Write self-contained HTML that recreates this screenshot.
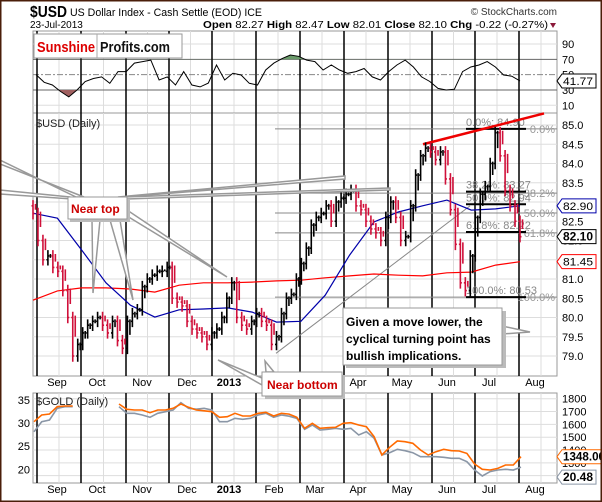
<!DOCTYPE html>
<html><head><meta charset="utf-8"><style>
body{margin:0;background:#fff;}
svg{display:block;font-family:"Liberation Sans",sans-serif;}
</style></head><body>
<svg id="c" width="602" height="502" viewBox="0 0 602 502" xmlns="http://www.w3.org/2000/svg">
<rect x="0" y="0" width="602" height="502" fill="#fff"/>
<g id="hdr">
<text x="30" y="17" font-size="16" font-weight="bold" textLength="37" lengthAdjust="spacingAndGlyphs">$USD</text>
<text x="70" y="16" font-size="11" textLength="192" lengthAdjust="spacingAndGlyphs">US Dollar Index - Cash Settle (EOD) ICE</text>
<text x="557" y="15" font-size="10" text-anchor="end" fill="#333">© StockCharts.com</text>
<text x="30" y="28" font-size="10">23-Jul-2013</text>
<text x="203" y="28" font-size="10.5" textLength="345" lengthAdjust="spacingAndGlyphs"><tspan font-weight="bold">Open</tspan> 82.27 <tspan font-weight="bold">High</tspan> 82.47 <tspan font-weight="bold">Low</tspan> 82.01 <tspan font-weight="bold">Close</tspan> 82.10 <tspan font-weight="bold">Chg</tspan> -0.22 (-0.27%)</text>
<polygon points="550,23 556,23 553,28" fill="#8b1a3a"/>
</g>
<g id="grid"></g>
<g id="marks"></g>
<g id="anno"></g>
<rect x="0" y="0" width="602" height="502" fill="none" stroke="#4a1e0a" stroke-width="3"/>
</svg>
<script>
// ---- data ----
const usdCloses=[82.7,82.0,81.5,81.6,81.3,81.2,80.7,80.0,79.0,79.3,79.6,79.8,79.9,80.0,79.8,79.6,79.9,79.4,79.2,79.9,80.1,80.2,80.8,81.0,81.1,81.2,81.2,81.3,80.5,80.4,80.3,79.9,79.7,79.6,79.5,79.3,79.6,79.7,80.0,80.5,80.9,80.0,79.8,79.7,79.9,80.1,79.9,79.8,79.3,79.5,80.1,80.5,80.6,81.0,81.4,81.8,82.4,82.6,82.7,82.9,82.5,83.0,83.1,83.2,83.3,82.9,82.8,82.5,82.3,82.2,82.0,82.6,83.0,82.6,82.0,82.1,82.9,83.7,84.2,84.4,84.3,84.1,84.3,83.6,82.8,81.9,80.9,80.7,81.6,82.6,83.2,83.4,84.0,84.8,84.2,83.3,82.9,82.5,82.1];
const ma50=[82.71,82.58,81.75,80.9,80.32,80.01,80.2,80.22,80.25,80.14,79.88,79.9,80.58,81.62,82.48,82.74,82.9,83.05,82.79,82.82,82.9];
const ma200=[80.45,80.69,80.77,80.77,80.74,80.66,80.84,80.9,80.9,80.92,80.95,80.97,81.03,81.08,81.13,81.1,81.08,81.16,81.18,81.36,81.45];
const rsi=[50,40,36.5,28,21,30,41,45,47,38.7,54,54,65,67,69,43,47,36.5,54,36.5,34,39,62.6,43,51.7,49.5,38.7,36.5,56,65,71,75.6,74,69,67,56,62.6,56,51.7,54,58,47,43,54,62.6,69,60,47,41,32,30,31,54,60,62.6,67,60,49.5,48,41.77];
const gold=[1621,1673,1681,1738,1743,1743,null,null,null,null,null,1759,1717,1712,1712,1691,1712,1712,1725,1759,1733,1712,1706,1699,1655,1660,1686,1665,1665,1686,1694,1665,1686,1680,1655,1569,1608,1569,1574,1577,1608,1613,1595,1582,1504,1361,1421,1470,1465,1452,1400,1361,1387,1406,1395,1392,1374,1291,1250,1244,1257,1283,1283,1348];
const silver=[28.14,30.3,30.67,33.2,33.55,33.55,null,null,null,null,null,33.55,32.12,32.12,31.75,31.25,32.12,32.47,32.84,34.42,33.2,33.0,33.2,32.84,30.3,30.3,31.03,30.82,31.03,31.75,32.12,31.25,31.75,31.5,31.03,28.65,29.59,28.5,28.65,28.87,28.65,28.87,27.42,28.14,26.7,23.1,23.6,24.33,24.03,23.6,22.73,22.73,22.73,22.6,22.38,22.38,21.65,19.85,18.55,19.5,19.85,20.0,19.85,20.48];
const months=["Sep","Oct","Nov","Dec","2013","Feb","Mar","Apr","May","Jun","Jul","Aug"];
const usdTicks=[85.0,84.5,84.0,83.5,83.0,82.5,82.0,81.5,81.0,80.5,80.0,79.5,79.0];
const rsiTicks=[90,70,50,30,10];
const goldTicks=[1800,1700,1600,1500,1400,1300,1200];
const silverTicks=[35,30,25,20];
const fibLevels=[0,38.2,50,61.8,100];
const fibHigh=84.9, fibLow=80.53;
// ---- scales ----
const NS="http://www.w3.org/2000/svg";
const L=33,R=557;
const xDay=(i,n)=>33+i*(520-33)/(n-1);
const yUsd=v=>125+(85-v)*38.5;
const yRsi=v=>44+(90-v)*0.766;
const yGold=v=>398.7+(1800-v)*0.1283;
const ySil=v=>400+(35-v)*4.62;
const monthX=[37,81,126,169,212,256,300,344,388,432,475,519];
const labelX=[57,97,142,187,229,274,315,358,402,447,489,535];
function mk(tag,attrs,parent,text){const e=document.createElementNS(NS,tag);for(const k in attrs)e.setAttribute(k,attrs[k]);if(text!==undefined)e.textContent=text;parent.appendChild(e);return e;}
const G=document.getElementById('grid'),M=document.getElementById('marks'),A=document.getElementById('anno');
const panels=[[31,113],[113,376],[393,483]];
panels.forEach((p,pi)=>{
 const f=mk('rect',{x:L,y:p[0],width:R-L,height:p[1]-p[0],fill:'#fff',stroke:'#999'},G);
 
 
 for(let k=0;k<monthX.length;k++){
  const mx=k<monthX.length-1?(monthX[k]+monthX[k+1])/2:monthX[k]+22;
  const g=mk('line',{x1:mx,x2:mx,y1:p[0],y2:p[1],stroke:'#ddd'},G);
  
  
 }
});
usdTicks.forEach(v=>{const l=mk('line',{x1:L,x2:R,y1:yUsd(v),y2:yUsd(v),stroke:'#ddd'},G);
 
 const t=mk('text',{x:562,y:yUsd(v)+4,'font-size':11},G,v.toFixed(1));
 });
rsiTicks.forEach(v=>{const main=v===70||v===30;const l=mk('line',{x1:L,x2:R,y1:yRsi(v),y2:yRsi(v),stroke:main?'#666':(v===50?'#888':'#ddd'),'stroke-dasharray':v===50?'6,2,2,2':'none'},G);
 
 const t=mk('text',{x:562,y:yRsi(v)+4,'font-size':11},G,String(v));
 });
goldTicks.forEach(v=>{const l=mk('line',{x1:L,x2:R,y1:yGold(v),y2:yGold(v),stroke:'#ddd'},G);
 
 const t=mk('text',{x:562,y:yGold(v)+4,'font-size':11},G,String(v));
 });
silverTicks.forEach(v=>{const t=mk('text',{x:30,y:ySil(v)+4,'font-size':11,'text-anchor':'end'},G,String(v));
 });
panels.forEach(p=>monthX.forEach(mx=>{const l=mk('line',{x1:mx,x2:mx,y1:p[0],y2:p[1],stroke:'#000','stroke-width':1.5},G);
 }));
months.forEach((m,i)=>{[386,493].forEach(yy=>{const t=mk('text',{x:labelX[i],y:yy,'font-size':11,'text-anchor':'middle','font-weight':m==='2013'?'bold':'normal'},G,m);
 });});
fibLevels.forEach(f=>{const v=fibHigh-(fibHigh-fibLow)*f/100;const y=yUsd(v);
 const l=mk('line',{x1:275,x2:R,y1:y,y2:y,stroke:'#888'},M);
 
 const t=mk('text',{x:R-2,y:y+4,'font-size':11,fill:'#999','text-anchor':'end'},M,f.toFixed(1)+'%');
 });
const fib2=[[0,84.9],[38.2,83.27],[50,82.94],[61.8,82.22],[100,80.53]];
fib2.forEach(d=>{const y=yUsd(d[1]);
 const l=mk('line',{x1:466,x2:526,y1:y,y2:y,stroke:'#000','stroke-width':2},M);
 
 const t=mk('text',{x:466,y:y-3,'font-size':11,fill:'#888'},M,d[0].toFixed(1)+'%: '+d[1].toFixed(2));
 });
const tl=mk('line',{x1:276,y1:yUsd(79.07),x2:470,y2:yUsd(82.9),stroke:'#888','stroke-width':1},M);

const rl=mk('line',{x1:423,y1:yUsd(84.5),x2:544,y2:yUsd(85.3),stroke:'#e00','stroke-width':2.5},M);

function pathOf(arr,xf,yf){let d='',pen=false;arr.forEach((v,i)=>{if(v===null){pen=false;return;}d+=(pen?'L':'M')+xf(i).toFixed(1)+','+yf(v).toFixed(1);pen=true;});return d;}
const p200=mk('path',{d:pathOf(ma200,i=>xDay(i,ma200.length),yUsd),fill:'none',stroke:'#f00','stroke-width':1.2},M);

const p50=mk('path',{d:pathOf(ma50,i=>xDay(i,ma50.length),yUsd),fill:'none',stroke:'#00a','stroke-width':1.2},M);

usdCloses.forEach((c,i)=>{const prev=i?usdCloses[i-1]:c+0.2;const x=xDay(i,usdCloses.length);
 const hi=Math.max(prev,c)+0.15,lo=Math.min(prev,c)-0.15;const col=c<prev?'#d0103a':'#000';
 const b=mk('path',{d:`M${x},${yUsd(hi)}V${yUsd(lo)}M${x-1.5},${yUsd(prev)}H${x}M${x},${yUsd(c)}H${x+1.5}M${x+2.5},${yUsd(hi-0.1)}V${yUsd((prev+c)/2)}`,stroke:col,'stroke-width':1.6,fill:'none'},M);
 });
const rx=i=>36+i*(520-36)/(rsi.length-1);
const clipHi=mk('clipPath',{id:'chi'},M);mk('rect',{x:L,y:0,width:R-L,height:yRsi(70)},clipHi);
const clipLo=mk('clipPath',{id:'clo'},M);mk('rect',{x:L,y:yRsi(30),width:R-L,height:40},clipLo);
const rp=pathOf(rsi,rx,yRsi);
const fh=mk('path',{d:rp+`L${rx(rsi.length-1)},${yRsi(70)}L${rx(0)},${yRsi(70)}Z`,fill:'#6a9a6a','clip-path':'url(#chi)'},M);

const fl=mk('path',{d:rp+`L${rx(rsi.length-1)},${yRsi(30)}L${rx(0)},${yRsi(30)}Z`,fill:'#a06060','clip-path':'url(#clo)'},M);

const rl2=mk('path',{d:rp,fill:'none',stroke:'#000','stroke-width':1},M);

const gx=i=>34+i*(521-34)/(gold.length-1);
const sp=mk('path',{d:pathOf(silver,gx,ySil),fill:'none',stroke:'#8a96a6','stroke-width':1.6},M);

const gp=mk('path',{d:pathOf(gold,gx,yGold),fill:'none',stroke:'#ff6a00','stroke-width':1.6},M);

function tag(y,txt,col,bold,name){const w=txt.length*6+4;
 const p=mk('path',{d:`M557,${y}l5,-7h${w}v14h-${w}z`,fill:'#fff',stroke:col},A);
 
 const t=mk('text',{x:563,y:y+4,'font-size':bold?11.5:11,'font-weight':bold?'bold':'normal','textLength':txt.length*6,'lengthAdjust':'spacingAndGlyphs'},A,txt);
 }
tag(yRsi(rsi[rsi.length-1]),rsi[rsi.length-1].toFixed(2),'#000',false,'rsi-value');
tag(yUsd(ma50[ma50.length-1]),ma50[ma50.length-1].toFixed(2),'#00a',false,'ma50-value');
tag(yUsd(usdCloses[usdCloses.length-1]),usdCloses[usdCloses.length-1].toFixed(2),'#000',true,'close-value');
tag(yUsd(ma200[ma200.length-1]),ma200[ma200.length-1].toFixed(2),'#f00',false,'ma200-value');
tag(yGold(gold[gold.length-1]),gold[gold.length-1].toFixed(2),'#ff6a00',true,'gold-value');
tag(ySil(silver[silver.length-1])+10,silver[silver.length-1].toFixed(2),'#8a96a6',true,'silver-value');
[[36,127,'$USD (Daily)','usd-panel-title'],[36,405,'$GOLD (Daily)','gold-panel-title']].forEach(d=>{const t=mk('text',{x:d[0],y:d[1],'font-size':11,fill:'#222'},A,d[2]);});
const lg=mk('g',{},A);
mk('rect',{x:34,y:34,width:148,height:24,fill:'#fff',stroke:'#999'},lg);
mk('line',{x1:97,x2:97,y1:34,y2:58,stroke:'#aaa'},lg);
mk('text',{x:37,y:52,'font-size':15,'font-weight':'bold',fill:'#d00',textLength:58,lengthAdjust:'spacingAndGlyphs'},lg,'Sunshine');
mk('text',{x:100,y:52,'font-size':15,'font-weight':'bold',fill:'#111',textLength:70,lengthAdjust:'spacingAndGlyphs'},lg,'Profits.com');
function callout(pts,name){const p=mk('polygon',{points:pts,fill:'#fff',stroke:'#999','stroke-width':1.5},A);}
const sh='#bbb';
callout('0,160 76,197 84,197 0,164','near-top-pointer');
callout('0,190 70,197 72,199 0,194','near-top-pointer');
callout('118,197 345,176 345,179 124,197','near-top-pointer');
callout('124,197 390,188 390,190 127,199','near-top-pointer');
callout('92,220 93,293 100,220','near-top-pointer');
callout('110,220 133,300 120,220','near-top-pointer');
callout('127,210 227,277 127,216','near-top-pointer');
mk('rect',{x:70,y:199,width:60,height:23,fill:sh},A);
const nt=mk('rect',{x:68,y:197,width:59,height:22,fill:'#fff',stroke:'#999'},A);
const ntt=mk('text',{x:71,y:213,'font-size':12,'font-weight':'bold',fill:'#c00'},A,'Near top');
callout('262,378 218,360 262,385','near-bottom-pointer');
callout('266,372 265,361 274,372','near-bottom-pointer');
mk('rect',{x:265,y:375,width:80,height:24,fill:sh},A);
const nb=mk('rect',{x:262,y:372,width:80,height:24,fill:'#fff',stroke:'#999'},A);
const nbt=mk('text',{x:267,y:389,'font-size':12,'font-weight':'bold',fill:'#c00'},A,'Near bottom');
callout('502,326 530,332 502,334','comment-pointer');
mk('rect',{x:346,y:311,width:160,height:57,fill:sh},A);
const cb=mk('rect',{x:343,y:308,width:159,height:57,fill:'#fff',stroke:'#999'},A);
['Given a move lower, the','cyclical turning point has','bullish implications.'].forEach((s,i)=>{const t=mk('text',{x:346,y:326+i*17,'font-size':12,'font-weight':'bold'},A,s);});
</script>
</body></html>
